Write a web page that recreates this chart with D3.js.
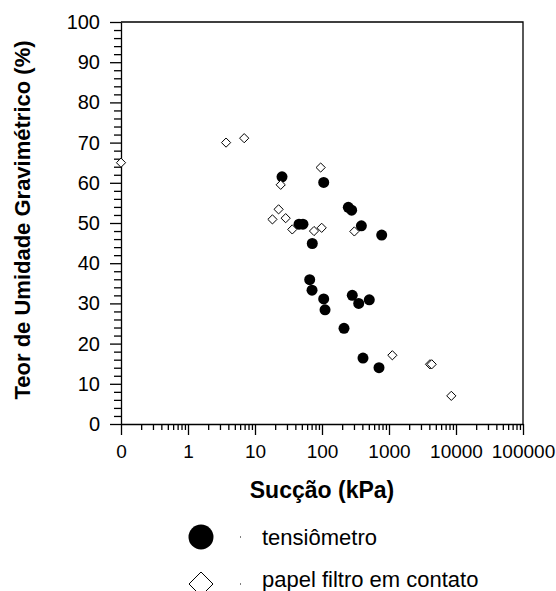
<!DOCTYPE html>
<html>
<head>
<meta charset="utf-8">
<script src="https://cdn.jsdelivr.net/npm/d3@7"></script>
<style>
  body { margin: 0; background: #fff; overflow: hidden; }
  svg { display: block; font-family: "Liberation Sans", Arial, sans-serif; }
</style>
</head>
<body>
<div id="chart"></div>
<script>
// tensiômetro (filled circles)
const tensiometroSuccao = [25.3, 106, 45.4, 52, 71.6, 247, 277, 387, 778, 65.5, 71, 106, 111, 283, 353, 508, 213, 409, 709];
const tensiometroTeor = [61.5, 60.1, 49.7, 49.7, 44.9, 53.9, 53.2, 49.3, 47.0, 35.9, 33.3, 31.1, 28.4, 32.0, 30.0, 30.9, 23.8, 16.4, 14.0];

// papel filtro em contato (open diamonds)
const papelSuccao = [0.1, 3.7, 6.9, 24.2, 95.5, 22.5, 18.2, 28.7, 36, 76, 98.9, 304, 1122, 4090, 4340, 8510];
const papelTeor = [65, 70, 71.1, 59.5, 63.8, 53.4, 50.9, 51.2, 48.4, 48.0, 48.8, 47.9, 17.1, 14.85, 14.85, 7.0];

const xMajorTicks = [0.1, 1, 10, 100, 1000, 10000, 100000];
const xTickLabels = ["0", "1", "10", "100", "1000", "10000", "100000"];
const yMajorTicks = [0, 10, 20, 30, 40, 50, 60, 70, 80, 90, 100];

const legendLabels = ["tensiômetro", "papel filtro em contato"];

const chart = {
  width: 556,
  height: 591,
  margin: { top: 22, right: 33, bottom: 167, left: 121 },
};
const plotRight = chart.width - chart.margin.right;
const plotBottom = chart.height - chart.margin.bottom;

let x = d3.scaleLog()
  .domain([0.1, 100000])
  .range([chart.margin.left, plotRight]);

let y = d3.scaleLinear()
  .domain([0, 100])
  .range([plotBottom, chart.margin.top]);

// minor ticks 2..9 of each decade
let xMinorTicks = [];
for (let i = 0; i < xMajorTicks.length - 1; i++) {
  for (let k = 2; k <= 9; k++) {
    xMinorTicks.push(xMajorTicks[i] * k);
  }
}
let yMinorTicks = d3.range(0, 101, 2).filter(v => v % 10 != 0);

const svg = d3.select("#chart")
  .append("svg")
  .attr("width", chart.width)
  .attr("height", chart.height);

// frame (top and right)
svg.append("path")
  .attr("d", `M${chart.margin.left},${chart.margin.top}H${plotRight}V${plotBottom}`)
  .attr("fill", "none")
  .attr("stroke", "#000")
  .attr("stroke-width", 1.3);

// x axis
svg.append("g")
  .attr("transform", `translate(0,${plotBottom})`)
  .call(d3.axisBottom(x).tickValues(xMinorTicks).tickSize(6).tickFormat(""))
  .call(g => g.select(".domain").remove());

svg.append("g")
  .attr("transform", `translate(0,${plotBottom})`)
  .call(d3.axisBottom(x)
    .tickValues(xMajorTicks)
    .tickSize(11)
    .tickPadding(10)
    .tickSizeOuter(0)
    .tickFormat((d, i) => xTickLabels[i]))
  .call(g => g.selectAll("text").attr("font-size", 19).attr("fill", "#000").attr("font-family", null));

// y axis
svg.append("g")
  .attr("transform", `translate(${chart.margin.left},0)`)
  .call(d3.axisLeft(y).tickValues(yMinorTicks).tickSize(7).tickFormat(""))
  .call(g => g.select(".domain").remove());

svg.append("g")
  .attr("transform", `translate(${chart.margin.left},0)`)
  .call(d3.axisLeft(y)
    .tickValues(yMajorTicks)
    .tickSize(11)
    .tickPadding(10)
    .tickSizeOuter(0))
  .call(g => g.selectAll("text").attr("font-size", 20).attr("fill", "#000").attr("font-family", null));

svg.selectAll(".domain, .tick line")
  .attr("stroke", "#000")
  .attr("stroke-width", 1.3);

// axis titles
svg.append("text")
  .attr("x", (chart.margin.left + plotRight) / 2)
  .attr("y", 498)
  .attr("text-anchor", "middle")
  .attr("font-weight", "bold")
  .attr("font-size", 23)
  .text("Sucção (kPa)");

svg.append("text")
  .attr("transform", "translate(30,220) rotate(-90)")
  .attr("text-anchor", "middle")
  .attr("font-weight", "bold")
  .attr("font-size", 22)
  .text("Teor de Umidade Gravimétrico (%)");

const diamond = s => `M0,${-s}L${s},0L0,${s}L${-s},0Z`;

// data
svg.append("g")
  .selectAll("circle")
  .data(tensiometroSuccao)
  .join("circle")
  .attr("cx", d => x(d))
  .attr("cy", (d, i) => y(tensiometroTeor[i]))
  .attr("r", 5.5)
  .attr("fill", "#000");

svg.append("g")
  .selectAll("path")
  .data(papelSuccao)
  .join("path")
  .attr("transform", (d, i) => `translate(${x(d)},${y(papelTeor[i])})`)
  .attr("d", diamond(4.6))
  .attr("fill", "#fff")
  .attr("stroke", "#000")
  .attr("stroke-width", 1);

// legend
const legend = svg.append("g");
legend.append("circle")
  .attr("cx", 201).attr("cy", 537).attr("r", 12.5)
  .attr("fill", "#000");
legend.append("path")
  .attr("transform", "translate(201,584)")
  .attr("d", diamond(12))
  .attr("fill", "#fff")
  .attr("stroke", "#000")
  .attr("stroke-width", 1);
legend.selectAll("rect")
  .data([537, 584])
  .join("rect")
  .attr("x", 240).attr("y", d => d - 0.5)
  .attr("width", 1).attr("height", 1)
  .attr("fill", "#000");
legend.selectAll("text")
  .data(legendLabels)
  .join("text")
  .attr("x", 262)
  .attr("y", (d, i) => i == 0 ? 545 : 587)
  .attr("font-size", 22)
  .text(d => d);
</script>
</body>
</html>
